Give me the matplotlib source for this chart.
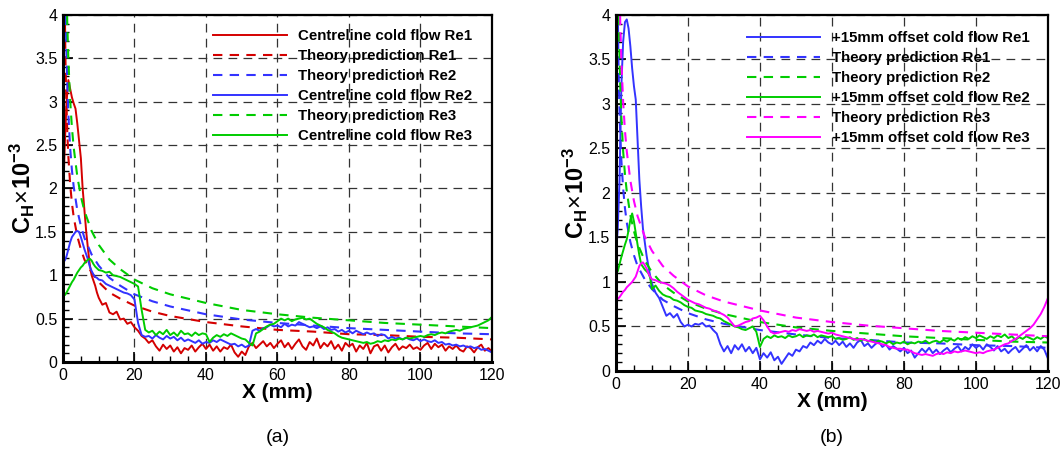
''' Heat transfer coefficient along the plate: centreline and offset cold flow '''

import numpy as np
import matplotlib
matplotlib.use('Agg')
import matplotlib.pyplot as plt
from matplotlib.ticker import MultipleLocator, FuncFormatter

plt.rcParams['font.family'] = ['Liberation Sans', 'DejaVu Sans']
plt.rcParams['mathtext.fontset'] = 'custom'
plt.rcParams['mathtext.rm'] = 'Liberation Sans'
plt.rcParams['mathtext.bf'] = 'Liberation Sans:bold'

# measurement grid (mm)
x_exp = np.concatenate([np.arange(0, 10, 0.5), np.arange(10, 121, 1.0)])

# ---- panel (a): centreline cold flow
a_re1 = [1.85, 2.5, 3.0, 3.25, 3.15, 3.05, 2.98, 2.92, 2.75, 2.55, 2.35, 2.0, 1.75, 1.5, 1.3, 1.12, 1.0, 0.94, 0.88, 0.8,
         0.74, 0.66, 0.68, 0.57, 0.55, 0.58, 0.49, 0.5, 0.44, 0.46, 0.40, 0.36, 0.30, 0.27, 0.22, 0.25, 0.18, 0.13, 0.2, 0.15,
         0.19, 0.12, 0.17, 0.1, 0.16, 0.14, 0.19, 0.12, 0.17, 0.21, 0.15, 0.2, 0.13, 0.18, 0.12, 0.17, 0.15, 0.2, 0.11, 0.06,
         0.12, 0.08, 0.18, 0.22, 0.16, 0.2, 0.24, 0.18, 0.22, 0.16, 0.21, 0.25, 0.17, 0.22, 0.15, 0.21, 0.26, 0.18, 0.14, 0.23,
         0.19, 0.27, 0.16, 0.22, 0.18, 0.24, 0.15, 0.2, 0.13, 0.22, 0.18, 0.21, 0.12, 0.19, 0.15, 0.22, 0.1, 0.18, 0.2, 0.13,
         0.19, 0.11, 0.17, 0.21, 0.14, 0.18, 0.16, 0.2, 0.15, 0.17, 0.14, 0.19, 0.22, 0.15, 0.21, 0.17, 0.2, 0.13, 0.18, 0.15,
         0.19, 0.14, 0.12, 0.18, 0.16, 0.11, 0.17, 0.2, 0.13, 0.16, 0.12]
a_re2 = [1.15, 1.17, 1.22, 1.3, 1.38, 1.44, 1.47, 1.5, 1.51, 1.5, 1.44, 1.37, 1.3, 1.24, 1.18, 1.1, 1.05, 1.01, 0.98, 0.97,
         0.95, 0.94, 0.9, 0.88, 0.86, 0.84, 0.82, 0.8, 0.79, 0.77, 0.72, 0.45, 0.31, 0.29, 0.3, 0.27, 0.31, 0.28, 0.26, 0.3,
         0.27, 0.29, 0.25, 0.28, 0.24, 0.26, 0.24, 0.22, 0.25, 0.21, 0.23, 0.22, 0.25, 0.23, 0.26, 0.24, 0.22, 0.2, 0.21, 0.18,
         0.2, 0.17, 0.19, 0.36, 0.38, 0.36, 0.39, 0.4, 0.43, 0.41, 0.42, 0.4, 0.44, 0.41, 0.43, 0.42, 0.46, 0.44, 0.42, 0.4,
         0.41, 0.39, 0.41, 0.38, 0.4, 0.37, 0.38, 0.35, 0.37, 0.34, 0.36, 0.33, 0.36, 0.34, 0.32, 0.34, 0.32, 0.33, 0.3, 0.32,
         0.31, 0.27, 0.29, 0.27, 0.28, 0.26, 0.28, 0.26, 0.25, 0.27, 0.24, 0.26, 0.24, 0.23, 0.25, 0.22, 0.23, 0.2, 0.21, 0.19,
         0.2, 0.18, 0.19, 0.17, 0.18, 0.16, 0.17, 0.14, 0.15, 0.13, 0.11]
a_re3 = [0.77, 0.77, 0.8, 0.84, 0.88, 0.92, 0.95, 0.99, 1.03, 1.06, 1.09, 1.11, 1.14, 1.16, 1.18, 1.19, 1.17, 1.13, 1.1, 1.08,
         1.06, 1.05, 1.03, 1.04, 1.0, 0.99, 0.98, 0.96, 0.94, 0.92, 0.9, 0.87, 0.6, 0.37, 0.34, 0.36, 0.31, 0.35, 0.32, 0.37,
         0.31, 0.34, 0.3, 0.36, 0.32, 0.33, 0.3, 0.34, 0.31, 0.33, 0.32, 0.23, 0.28, 0.31, 0.29, 0.32, 0.3, 0.33, 0.31, 0.29,
         0.27, 0.26, 0.22, 0.19, 0.33, 0.35, 0.38, 0.41, 0.43, 0.44, 0.47, 0.5, 0.48, 0.5, 0.47, 0.49, 0.5, 0.51, 0.49, 0.5,
         0.47, 0.44, 0.42, 0.4, 0.37, 0.35, 0.33, 0.3, 0.28, 0.27, 0.26, 0.25, 0.24, 0.23, 0.22, 0.23, 0.21, 0.22, 0.24, 0.23,
         0.25, 0.24, 0.26, 0.25, 0.27, 0.26, 0.28, 0.27, 0.28, 0.29, 0.3, 0.29, 0.31, 0.32, 0.31, 0.33, 0.34, 0.33, 0.35, 0.36,
         0.37, 0.36, 0.38, 0.39, 0.4, 0.41, 0.42, 0.44, 0.46, 0.48, 0.52]

# ---- panel (b): +15mm offset cold flow
b_re1 = [1.3, 1.6, 2.15, 3.2, 3.7, 3.92, 3.95, 3.85, 3.65, 3.4, 3.2, 3.05, 2.6, 2.15, 1.85, 1.6, 1.45, 1.3, 1.18, 1.07,
         0.98, 0.88, 0.82, 0.72, 0.62, 0.65, 0.6, 0.64, 0.55, 0.5, 0.52, 0.5, 0.53, 0.52, 0.54, 0.5, 0.51, 0.46, 0.42, 0.3,
         0.22, 0.28, 0.2, 0.29, 0.24, 0.3, 0.22, 0.27, 0.2, 0.26, 0.13, 0.2, 0.15, 0.21, 0.12, 0.16, 0.08, 0.14, 0.2, 0.17,
         0.24, 0.22, 0.28, 0.26, 0.32, 0.29, 0.34, 0.31, 0.36, 0.32, 0.3, 0.34, 0.29, 0.33, 0.27, 0.31, 0.26, 0.32, 0.35, 0.28,
         0.31, 0.26, 0.3, 0.33, 0.27, 0.3, 0.24, 0.28, 0.25, 0.22, 0.26, 0.2, 0.23, 0.15, 0.2, 0.25, 0.21, 0.26, 0.2, 0.24,
         0.19, 0.23, 0.26, 0.21, 0.25, 0.28, 0.22, 0.27, 0.24, 0.3, 0.26, 0.29, 0.24, 0.3, 0.27, 0.23, 0.28, 0.22, 0.25, 0.2,
         0.24, 0.27, 0.21, 0.25, 0.29, 0.23, 0.27, 0.22, 0.28, 0.24, 0.14]
b_re2 = [1.15, 1.12, 1.2, 1.28, 1.35, 1.42, 1.48, 1.58, 1.7, 1.77, 1.68, 1.55, 1.42, 1.3, 1.2, 1.17, 1.14, 1.12, 1.1, 1.05,
         0.92, 0.96, 0.9, 0.86, 0.84, 0.83, 0.8, 0.79, 0.77, 0.74, 0.72, 0.71, 0.68, 0.67, 0.66, 0.64, 0.63, 0.62, 0.6, 0.59,
         0.56, 0.54, 0.52, 0.5, 0.49, 0.47, 0.46, 0.48, 0.5, 0.44, 0.27, 0.36, 0.39, 0.37, 0.4, 0.38, 0.39, 0.37, 0.4, 0.38,
         0.39, 0.41, 0.38, 0.4, 0.39, 0.41, 0.38, 0.4, 0.39, 0.38, 0.39, 0.36, 0.37, 0.35, 0.36, 0.38, 0.35, 0.37, 0.34, 0.36,
         0.33, 0.35, 0.32, 0.34, 0.33, 0.31, 0.33, 0.3, 0.32, 0.31, 0.33, 0.3, 0.32, 0.31, 0.33, 0.32, 0.34, 0.31, 0.33, 0.34,
         0.32, 0.35, 0.33, 0.36, 0.34, 0.37, 0.35, 0.38, 0.36, 0.39, 0.37, 0.4, 0.38, 0.36, 0.39, 0.37, 0.4, 0.38, 0.41, 0.37,
         0.39, 0.35, 0.38, 0.36, 0.39, 0.37, 0.35, 0.38, 0.36, 0.39, 0.37]
b_re3 = [0.82, 0.81, 0.83, 0.86, 0.89, 0.91, 0.94, 0.96, 0.98, 1.0, 1.03, 1.06, 1.12, 1.18, 1.21, 1.22, 1.19, 1.15, 1.1, 1.06,
         1.03, 1.02, 1.0, 0.99, 0.98, 0.96, 0.93, 0.89, 0.86, 0.83, 0.8, 0.78, 0.76, 0.75, 0.73, 0.71, 0.7, 0.68, 0.67, 0.65,
         0.63, 0.6, 0.55, 0.5, 0.51, 0.53, 0.55, 0.56, 0.59, 0.6, 0.62, 0.57, 0.5, 0.44, 0.42, 0.43, 0.44, 0.45, 0.44, 0.46,
         0.45, 0.47, 0.46, 0.45, 0.46, 0.44, 0.45, 0.44, 0.43, 0.42, 0.43, 0.41, 0.4, 0.39, 0.38, 0.37, 0.36, 0.35, 0.36, 0.35,
         0.34, 0.33, 0.32, 0.31, 0.3, 0.29, 0.27, 0.26, 0.25, 0.25, 0.24, 0.24, 0.22, 0.2, 0.19, 0.18, 0.19, 0.18, 0.17, 0.19,
         0.2, 0.19, 0.21, 0.2, 0.22, 0.21, 0.22, 0.23, 0.22, 0.21, 0.2, 0.21, 0.2, 0.22, 0.23, 0.24, 0.26, 0.28, 0.3, 0.31,
         0.34, 0.36, 0.39, 0.42, 0.45, 0.48, 0.52, 0.58, 0.64, 0.72, 0.82]

# theory prediction curves
x_th = [0.55, 0.7, 0.9, 1.2, 1.5, 2, 2.5, 3, 4, 5, 6, 8, 10, 13, 16, 20, 25, 30, 40, 50, 60, 70, 80, 90, 100, 110, 120]
th_re1 = [3.91, 3.46, 3.06, 2.65, 2.37, 2.05, 1.83, 1.67, 1.45, 1.30, 1.18, 1.03, 0.92, 0.80, 0.73, 0.65, 0.58, 0.53,
          0.46, 0.41, 0.37, 0.35, 0.32, 0.31, 0.29, 0.28, 0.26]
th_re2 = [4.72, 4.18, 3.69, 3.20, 2.86, 2.47, 2.21, 2.02, 1.75, 1.57, 1.43, 1.24, 1.11, 0.97, 0.88, 0.78, 0.70, 0.64,
          0.55, 0.49, 0.45, 0.42, 0.39, 0.37, 0.35, 0.33, 0.32]
th_re3 = [5.75, 5.10, 4.50, 3.90, 3.49, 3.02, 2.70, 2.47, 2.14, 1.91, 1.74, 1.51, 1.35, 1.18, 1.07, 0.95, 0.85, 0.78,
          0.68, 0.60, 0.55, 0.51, 0.48, 0.45, 0.43, 0.41, 0.39]

RED = '#d40000'
BLUE = '#3333ff'
GREEN = '#00cc00'
MAGENTA = '#ff00ff'
DASH = (0, (4.5, 3.5))


def style_axes(ax):
    ax.set_xlim(0, 120)
    ax.set_ylim(0, 4)
    ax.xaxis.set_major_locator(MultipleLocator(20))
    ax.xaxis.set_minor_locator(MultipleLocator(5))
    ax.yaxis.set_major_locator(MultipleLocator(0.5))
    ax.yaxis.set_minor_locator(MultipleLocator(0.1))
    ax.yaxis.set_major_formatter(FuncFormatter(lambda v, p: '%g' % v))
    ax.tick_params(which='both', direction='in', top=False, right=False, labelsize=11.5)
    ax.tick_params(which='major', length=7, width=1.2, pad=4)
    ax.tick_params(which='minor', length=4, width=1)
    ax.grid(True, which='major', color='#333333', linestyle=(0, (7, 5)), linewidth=0.9)
    ax.spines['left'].set_linewidth(2.2)
    ax.spines['bottom'].set_linewidth(2.2)
    ax.spines['top'].set_linewidth(1.6)
    ax.spines['right'].set_linewidth(1.6)
    ax.set_xlabel('X (mm)', fontsize=15, fontweight='bold', labelpad=0)
    ax.set_ylabel(r'$\mathbf{C_H}\!\times\!\mathbf{10^{-3}}$', fontsize=17, labelpad=-1)


fig = plt.figure(figsize=(10.64, 4.5), dpi=100)
ax1 = fig.add_axes([0.0592, 0.1956, 0.4032, 0.7711])
ax2 = fig.add_axes([0.5789, 0.1756, 0.4060, 0.7911])

ax1.plot(x_exp, a_re1, color=RED, lw=1.4, label='Centreline cold flow Re1')
ax1.plot(x_th, th_re1, color=RED, lw=1.5, linestyle=DASH, label='Theory prediction Re1')
ax1.plot(x_th, th_re2, color=BLUE, lw=1.5, linestyle=DASH, label='Theory prediction Re2')
ax1.plot(x_exp, a_re2, color=BLUE, lw=1.4, label='Centreline cold flow Re2')
ax1.plot(x_th, th_re3, color=GREEN, lw=1.5, linestyle=DASH, label='Theory prediction Re3')
ax1.plot(x_exp, a_re3, color=GREEN, lw=1.4, label='Centreline cold flow Re3')

ax2.plot(x_exp, b_re1, color=BLUE, lw=1.4, label='+15mm offset cold flow Re1')
ax2.plot(x_th, th_re1, color=BLUE, lw=1.5, linestyle=DASH, label='Theory prediction Re1')
ax2.plot(x_th, th_re2, color=GREEN, lw=1.5, linestyle=DASH, label='Theory prediction Re2')
ax2.plot(x_exp, b_re2, color=GREEN, lw=1.4, label='+15mm offset cold flow Re2')
ax2.plot(x_th, th_re3, color=MAGENTA, lw=1.5, linestyle=DASH, label='Theory prediction Re3')
ax2.plot(x_exp, b_re3, color=MAGENTA, lw=1.4, label='+15mm offset cold flow Re3')

for ax, anchor in [(ax1, (0.2002, 0.935)), (ax2, (0.702, 0.931))]:
    style_axes(ax)
    ax.legend(loc='upper left', bbox_to_anchor=anchor, bbox_transform=fig.transFigure,
              frameon=False, borderpad=0, borderaxespad=0, handlelength=4.9, handletextpad=0.75,
              labelspacing=0.4, prop={'weight': 'bold', 'size': 10.8})

fig.text(278 / 1064, 1 - 437 / 450, '(a)', ha='center', va='center', fontsize=14)
fig.text(832 / 1064, 1 - 437 / 450, '(b)', ha='center', va='center', fontsize=14)

fig.savefig('out.png', dpi=100)
